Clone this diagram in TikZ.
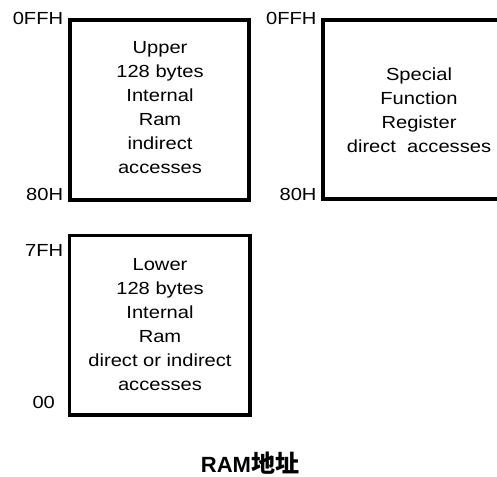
\documentclass[tikz,border=0pt]{standalone}
\usepackage{fontspec}
\setmainfont{Liberation Sans}
\newfontfamily\lblfont{Liberation Sans}[FakeStretch=1.15]
\newfontfamily\cjk{Noto Sans CJK SC}
\tikzset{
  memline/.style={line width=3.8pt, line join=miter},
  boxtext/.style={align=center, inner sep=0pt, font=\lblfont\fontsize{17.5}{24}\selectfont},
  addr/.style={inner sep=0pt, font=\lblfont\fontsize{17.5}{20}\selectfont},
}
\begin{document}
\begin{tikzpicture}[x=1pt,y=-1pt]
\useasboundingbox (0,0) rectangle (497,476);
\begin{scope}
\clip (0,0) rectangle (497,476);
% boxes
\draw[memline] (69.7,20) rectangle (249,200);
\draw[memline] (520,20) -- (323,20) -- (323,199) -- (520,199);
\draw[memline] (69.5,235.5) rectangle (250,415);
\end{scope}
% box texts
\node[boxtext] (upper) at (160,108) {Upper\\128 bytes\\Internal\\Ram\\indirect\\accesses};
\node[boxtext] (sfr) at (419,110) {Special\\Function\\Register\\direct\ \ accesses};
\node[boxtext] (lower) at (160,325) {Lower\\128 bytes\\Internal\\Ram\\direct or indirect\\accesses};
% address labels
\node[addr, anchor=base east] (a1) at (63.3,25) {0FFH};
\node[addr, anchor=base east] (a2) at (63.3,200) {80H};
\node[addr, anchor=base east] (a3) at (316.7,25) {0FFH};
\node[addr, anchor=base east] (a4) at (316.7,200) {80H};
\node[addr, anchor=base east] (a5) at (63.3,256) {7FH};
\node[addr, anchor=base west] (a6) at (32.3,408.3) {00};
% title
\node[inner sep=0pt, anchor=base] (title) at (250,472) {\fontsize{22}{26}\selectfont\bfseries RAM{\cjk\fontsize{24}{26}\selectfont\bfseries 地址}};
\end{tikzpicture}
\end{document}
